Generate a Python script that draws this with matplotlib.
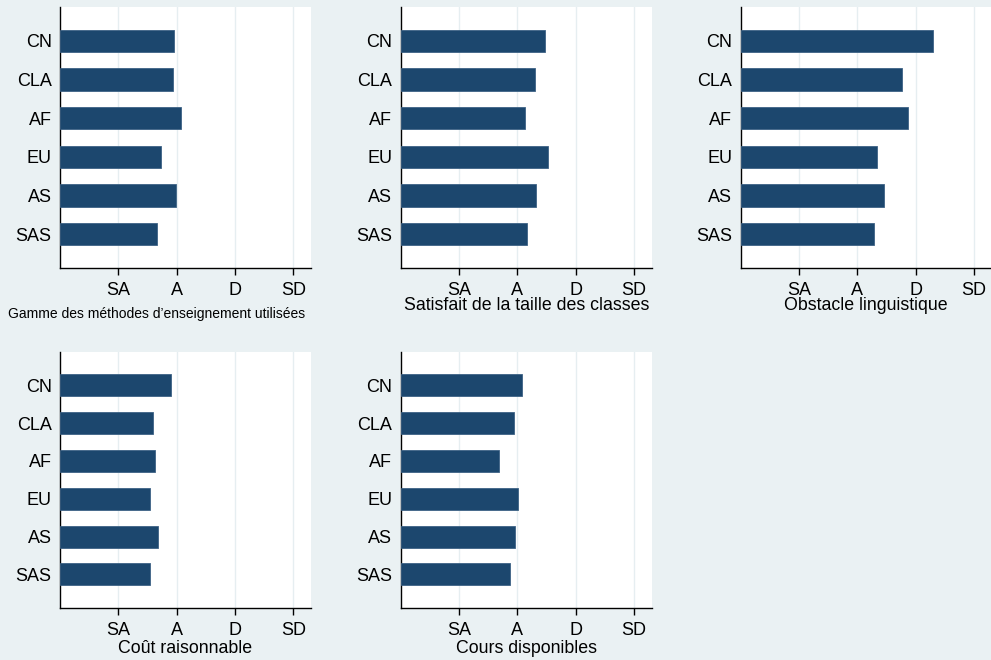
import matplotlib
matplotlib.use("Agg")
import matplotlib.pyplot as plt

plt.rcParams["font.family"] = ["Liberation Sans", "DejaVu Sans"]

regions = ["CN", "CLA", "AF", "EU", "AS", "SAS"]
scale_ticks = [1, 2, 3, 4]
scale_labels = ["SA", "A", "D", "SD"]

gamme_methodes = [1.95, 1.93, 2.08, 1.73, 1.99, 1.67]
taille_classes = [2.47, 2.30, 2.13, 2.53, 2.31, 2.16]
obstacle_ling = [3.29, 2.77, 2.87, 2.33, 2.45, 2.28]
cout_raisonnable = [1.90, 1.60, 1.62, 1.54, 1.68, 1.54]
cours_dispo = [2.08, 1.94, 1.69, 2.01, 1.96, 1.87]

BG = "#eaf1f3"
BAR = "#1c476e"
GRID = "#e6eef1"

W, H = 991, 660
fig = plt.figure(figsize=(W / 100, H / 100), dpi=100)
fig.patch.set_facecolor(BG)

# (values, title, left px, top px, bottom px, title x, title y, title size)
panels = [
    (gamme_methodes, "Gamme des méthodes d’enseignement utilisées", 60, 7, 268, 0.386, -0.149, 10),
    (taille_classes, "Satisfait de la taille des classes", 400.7, 7, 268, 0.5, -0.111, 12.8),
    (obstacle_ling, "Obstacle linguistique", 740.7, 7, 268, 0.5, -0.111, 12.8),
    (cout_raisonnable, "Coût raisonnable", 60, 352, 607.7, 0.5, -0.126, 12.8),
    (cours_dispo, "Cours disponibles", 400.7, 352, 607.7, 0.5, -0.126, 12.8),
]

for vals, title, lpx, tpx, bpx, tx, ty, tsize in panels:
    ax = fig.add_axes([lpx / W, 1 - bpx / H, 251 / W, (bpx - tpx) / H])
    ax.set_facecolor("white")
    ypos = list(range(len(regions)))
    ax.barh(ypos, vals, height=0.58, color=BAR, edgecolor="#3d6285",
            linewidth=0.6, zorder=3)
    ax.set_xlim(0, 4.3)
    ax.set_ylim(5.88, -0.88)
    ax.set_yticks(ypos)
    ax.set_yticklabels(regions, fontsize=13)
    ax.set_xticks(scale_ticks)
    ax.set_xticklabels(scale_labels, fontsize=13)
    ax.tick_params(axis="y", length=0, pad=6, colors="black")
    ax.tick_params(axis="x", length=5, width=1, pad=5, colors="black")
    ax.xaxis.grid(True, color=GRID, linewidth=1.0, zorder=0)
    ax.set_axisbelow(True)
    for s in ["top", "right"]:
        ax.spines[s].set_visible(False)
    for s in ["left", "bottom"]:
        ax.spines[s].set_color("black")
        ax.spines[s].set_linewidth(1.0)
    ax.set_xlabel(title, fontsize=tsize)
    ax.xaxis.set_label_coords(tx, ty)

fig.savefig("out.png", dpi=100, facecolor=BG)
